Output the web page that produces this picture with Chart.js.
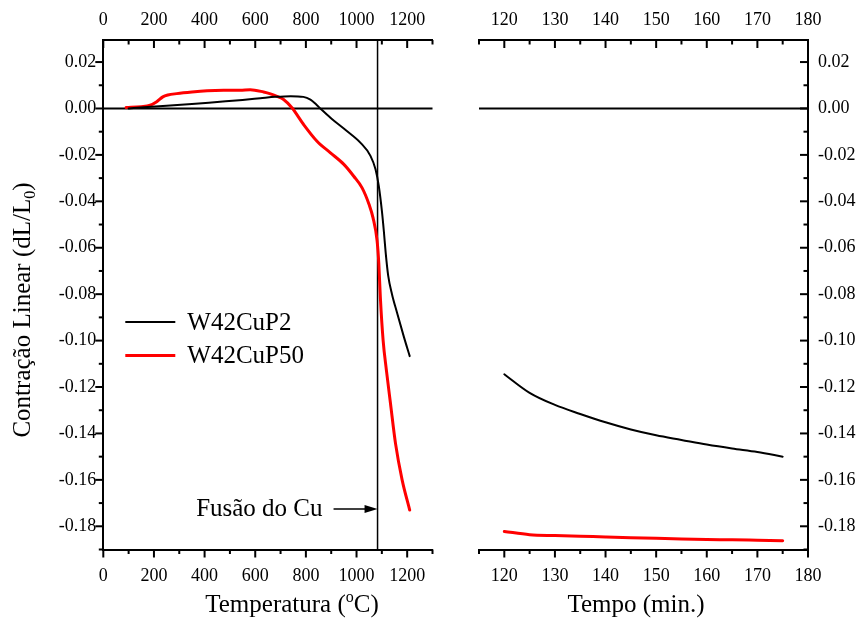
<!DOCTYPE html>
<html>
<head>
<meta charset="utf-8">
<script src="https://cdn.jsdelivr.net/npm/chart.js@4.4.1/dist/chart.umd.min.js"></script>
<style>
  body { margin: 0; background: #fff; }
  #wrap { position: relative; width: 861px; height: 628px; }
  #wrap canvas { position: absolute; left: 0; top: 0; }
</style>
</head>
<body>
<div id="wrap">
  <canvas id="heating" width="861" height="628"></canvas>
  <canvas id="holding" width="861" height="628"></canvas>
</div>
<script>
// dilatometry, heating ramp: temperature (°C) vs dL/L0
const tempP2 = [100, 160, 250, 350, 450, 550, 620, 680, 740, 790, 818, 840, 860, 897, 963,
  1015, 1055, 1075, 1088, 1100, 1108, 1115, 1125, 1140, 1160, 1187, 1210];
const contrP2 = [0.0000, 0.0005, 0.0012, 0.0019, 0.0028, 0.0037, 0.0044, 0.0050, 0.0053, 0.0050,
  0.0038, 0.0018, -0.0003, -0.0040, -0.0098, -0.0147, -0.0204, -0.0262, -0.0335, -0.0440,
  -0.0530, -0.0620, -0.0720, -0.0800, -0.0880, -0.0984, -0.1067];
const tempP50 = [90, 150, 185, 211, 235, 255, 290, 350, 410, 475, 540, 580, 633, 660, 686, 712,
  745, 791, 844, 897, 950, 989, 1022, 1050, 1065, 1081, 1088, 1094, 1105, 1118, 1134,
  1154, 1180, 1210];
const contrP50 = [0.0004, 0.0008, 0.0014, 0.0029, 0.0050, 0.0058, 0.0064, 0.0071, 0.0076, 0.0078,
  0.0078, 0.0081, 0.0071, 0.0063, 0.0052, 0.0039, 0.0003, -0.0069, -0.0141, -0.0191, -0.0241,
  -0.0292, -0.0342, -0.0415, -0.0470, -0.0568, -0.0668, -0.0812, -0.0999, -0.1128,
  -0.1270, -0.1444, -0.1600, -0.1730];

// isothermal hold: time (min) vs dL/L0
const holdTime = [120, 125, 130, 135, 140, 145, 150, 155, 160, 165, 170, 175];
const holdP2 = [-0.1145, -0.1225, -0.1277, -0.1316, -0.1352, -0.1383, -0.1408, -0.1428,
  -0.1448, -0.1465, -0.1480, -0.1500];
const holdP50 = [-0.1822, -0.1836, -0.1840, -0.1843, -0.1846, -0.1849, -0.1852, -0.1855,
  -0.1857, -0.1858, -0.1860, -0.1862];

const seriesNames = ['W42CuP2', 'W42CuP50'];
const seriesColors = ['#000000', '#ff0000'];
const seriesWidths = [2, 3];

// labelled ticks
const tempTicks = [0, 200, 400, 600, 800, 1000, 1200];
const timeTicks = [120, 130, 140, 150, 160, 170, 180];
const contrTicks = [0.02, 0.00, -0.02, -0.04, -0.06, -0.08, -0.10, -0.12, -0.14, -0.16, -0.18];

const cuMeltTemp = 1083;
const cuMeltLevel = -0.1725;
const cuMeltLabel = 'Fusão do Cu';

const serif = '"Liberation Serif", "Times New Roman", serif';
const tickFont = { family: serif, size: 18 };

const pairs = (xs, ys) => xs.map((x, i) => ({ x, y: ys[i] }));
const isMajor = (v, majors) => majors.some(m => Math.abs(m - v) < 1e-9);

function lineSet(label, data, i) {
  return {
    label,
    data,
    borderColor: seriesColors[i],
    borderWidth: seriesWidths[i],
    pointRadius: 0,
    fill: false,
    cubicInterpolationMode: 'monotone',
    borderJoinStyle: 'round',
    borderCapStyle: 'round'
  };
}

// axis with border only; tick marks are drawn by the frame plugin
function axis(position, min, max, step, majors, padding, fmt, size) {
  const horizontal = position === 'top' || position === 'bottom';
  return {
    type: 'linear',
    position,
    min,
    max,
    afterBuildTicks(scale) {
      scale.ticks = scale.ticks.filter(t => Math.abs(t.value / step - Math.round(t.value / step)) < 1e-6);
    },
    afterFit(scale) {
      if (horizontal) scale.height = size; else scale.width = size;
    },
    ticks: {
      stepSize: step,
      autoSkip: false,
      maxRotation: 0,
      padding,
      color: '#000',
      font: tickFont,
      callback: v => (isMajor(v, majors) ? fmt(v) : '')
    },
    grid: { display: true, drawOnChartArea: false, drawTicks: false },
    border: { display: true, color: '#000', width: 2 }
  };
}

const fmtInt = v => String(Math.round(v));
const fmtContr = v => (Math.abs(v) < 1e-9 ? '0.00' : v.toFixed(2));

function drawMarks(chart, marks) {
  const { ctx, chartArea: a } = chart;
  ctx.save();
  ctx.strokeStyle = '#000';
  ctx.lineWidth = 2;
  marks.forEach(({ id, majors, inward }) => {
    const s = chart.scales[id];
    const edge = { left: a.left, right: a.right, top: a.top, bottom: a.bottom }[s.position];
    const outSign = (s.position === 'left' || s.position === 'top') ? -1 : 1;
    const dir = inward ? -outSign : outSign;
    s.ticks.forEach(t => {
      const len = isMajor(t.value, majors) ? 8 : 4.5;
      const p = s.getPixelForValue(t.value);
      ctx.beginPath();
      if (s.isHorizontal()) {
        ctx.moveTo(p, edge);
        ctx.lineTo(p, edge + dir * len);
      } else {
        ctx.moveTo(edge, p);
        ctx.lineTo(edge + dir * len, p);
      }
      ctx.stroke();
    });
  });
  ctx.restore();
}

// text with sub/superscript pieces, centred on (cx, cy)
function drawRich(ctx, parts, cx, cy, size, rotate) {
  ctx.save();
  ctx.translate(cx, cy);
  if (rotate) ctx.rotate(-Math.PI / 2);
  ctx.fillStyle = '#000';
  ctx.textBaseline = 'alphabetic';
  ctx.textAlign = 'left';
  const fontFor = p => `${p.shift ? Math.round(size * 0.62) : size}px ${serif}`;
  let total = 0;
  parts.forEach(p => { ctx.font = fontFor(p); total += ctx.measureText(p.text).width; });
  let x = -total / 2;
  parts.forEach(p => {
    ctx.font = fontFor(p);
    ctx.fillText(p.text, x, size * 0.33 + (p.shift || 0) * size);
    x += ctx.measureText(p.text).width;
  });
  ctx.restore();
}

function zeroLine(chart) {
  const { ctx, chartArea: a, scales: { y } } = chart;
  const py = y.getPixelForValue(0);
  ctx.save();
  ctx.strokeStyle = '#000';
  ctx.lineWidth = 2;
  ctx.beginPath();
  ctx.moveTo(a.left, py);
  ctx.lineTo(a.right, py);
  ctx.stroke();
  ctx.restore();
}

const heatingFrame = {
  id: 'heatingFrame',
  beforeDatasetsDraw(chart) {
    const { ctx, chartArea: a, scales: { x } } = chart;
    zeroLine(chart);
    const px = x.getPixelForValue(cuMeltTemp);
    ctx.save();
    ctx.strokeStyle = '#000';
    ctx.lineWidth = 1.5;
    ctx.beginPath();
    ctx.moveTo(px, a.top);
    ctx.lineTo(px, a.bottom);
    ctx.stroke();
    ctx.restore();
  },
  afterDraw(chart) {
    const { ctx, chartArea: a, scales: { x, y } } = chart;
    drawMarks(chart, [
      { id: 'x', majors: tempTicks, inward: false },
      { id: 'x2', majors: tempTicks, inward: true },
      { id: 'y', majors: contrTicks, inward: false }
    ]);

    // legend
    ctx.save();
    ctx.font = `25px ${serif}`;
    ctx.textBaseline = 'middle';
    ctx.textAlign = 'left';
    ctx.fillStyle = '#000';
    chart.data.datasets.forEach((ds, i) => {
      const ly = a.top + 282 + i * 33.5;
      ctx.strokeStyle = ds.borderColor;
      ctx.lineWidth = ds.borderWidth;
      ctx.beginPath();
      ctx.moveTo(a.left + 22, ly);
      ctx.lineTo(a.left + 72, ly);
      ctx.stroke();
      ctx.fillText(ds.label, a.left + 84, ly + 1);
    });

    // copper melting point note
    const px = x.getPixelForValue(cuMeltTemp);
    const py = y.getPixelForValue(cuMeltLevel);
    ctx.strokeStyle = '#000';
    ctx.lineWidth = 1.5;
    ctx.beginPath();
    ctx.moveTo(px - 44, py);
    ctx.lineTo(px - 12, py);
    ctx.stroke();
    ctx.beginPath();
    ctx.moveTo(px, py);
    ctx.lineTo(px - 13, py - 4);
    ctx.lineTo(px - 13, py + 4);
    ctx.closePath();
    ctx.fill();
    ctx.textAlign = 'right';
    ctx.fillText(cuMeltLabel, px - 55, py + 1);
    ctx.restore();

    drawRich(ctx, [{ text: 'Temperatura (' }, { text: 'o', shift: -0.42 }, { text: 'C)' }],
      292, 604, 25, false);
    drawRich(ctx, [{ text: 'Contração Linear (dL/L' }, { text: '0', shift: 0.2 }, { text: ')' }],
      22, 310, 25, true);
  }
};

const holdingFrame = {
  id: 'holdingFrame',
  beforeDatasetsDraw(chart) {
    zeroLine(chart);
  },
  afterDraw(chart) {
    drawMarks(chart, [
      { id: 'x', majors: timeTicks, inward: false },
      { id: 'x2', majors: timeTicks, inward: true },
      { id: 'y', majors: contrTicks, inward: true }
    ]);
    drawRich(chart.ctx, [{ text: 'Tempo (min.)' }], 636, 604, 25, false);
  }
};

const common = {
  responsive: false,
  animation: false,
  events: [],
  plugins: { legend: { display: false }, tooltip: { enabled: false } }
};

new Chart(document.getElementById('heating'), {
  type: 'line',
  data: {
    datasets: [
      lineSet(seriesNames[0], pairs(tempP2, contrP2), 0),
      lineSet(seriesNames[1], pairs(tempP50, contrP50), 1)
    ]
  },
  options: {
    ...common,
    layout: { padding: { right: 428.5 } },
    scales: {
      x: axis('bottom', 0, 1300, 100, tempTicks, 16, fmtInt, 78.5),
      x2: axis('top', 0, 1300, 100, tempTicks, 9, fmtInt, 40),
      y: axis('left', -0.19, 0.0295, 0.01, contrTicks, 7, fmtContr, 103.3)
    }
  },
  plugins: [heatingFrame]
});

new Chart(document.getElementById('holding'), {
  type: 'line',
  data: {
    datasets: [
      lineSet(seriesNames[0], pairs(holdTime, holdP2), 0),
      lineSet(seriesNames[1], pairs(holdTime, holdP50), 1)
    ]
  },
  options: {
    ...common,
    layout: { padding: { left: 479 } },
    scales: {
      x: axis('bottom', 115, 180, 5, timeTicks, 16, fmtInt, 78.5),
      x2: axis('top', 115, 180, 5, timeTicks, 9, fmtInt, 40),
      y: axis('right', -0.19, 0.0295, 0.01, contrTicks, 10, fmtContr, 53)
    }
  },
  plugins: [holdingFrame]
});
</script>
</body>
</html>
